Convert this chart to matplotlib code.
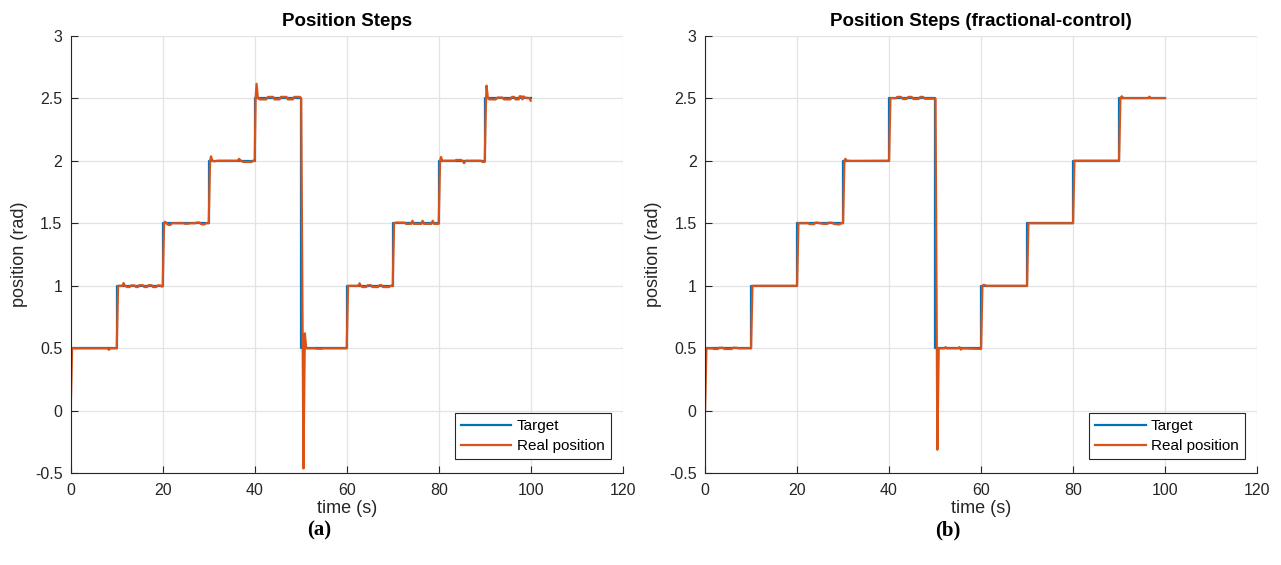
import numpy as np
import matplotlib
matplotlib.use("Agg")
import matplotlib.pyplot as plt

plt.rcParams['font.family'] = ['Liberation Sans', 'DejaVu Sans']

# step reference (same for both runs)
step_t = [0, 10, 20, 30, 40, 50, 60, 70, 80, 90, 100]
step_pos = [0.5, 1.0, 1.5, 2.0, 2.5, 0.5, 1.0, 1.5, 2.0, 2.5, 2.5]

# measured joint position, PID run (time s, position rad)
real_a = [
    (0, 0.0), (0.3, 0.5), (8.0, 0.5), (8.3, 0.488), (8.6, 0.5), (10.0, 0.5),
    (10.3, 1.0), (11.2, 1.0), (11.5, 1.022), (11.8, 1.0), (12.3, 0.99), (12.8, 0.99),
    (13.1, 1.003), (13.9, 1.003), (14.2, 0.99), (14.6, 0.99), (14.9, 1.005), (15.7, 1.005),
    (16.0, 0.99), (16.6, 0.99), (16.9, 1.005), (17.6, 1.005), (17.9, 0.99), (18.6, 0.99),
    (18.9, 1.003), (19.5, 1.003), (19.7, 0.995), (20.0, 0.995),
    (20.3, 1.5), (20.5, 1.512), (20.8, 1.5), (21.2, 1.487), (21.7, 1.487), (22.0, 1.5),
    (24.5, 1.5), (24.8, 1.496), (25.6, 1.496), (25.9, 1.5), (27.1, 1.5), (27.4, 1.506),
    (28.0, 1.506), (28.4, 1.492), (29.0, 1.49), (29.4, 1.5), (30.0, 1.5),
    (30.3, 2.0), (30.5, 2.035), (30.8, 2.0), (31.2, 1.995), (32.0, 2.0), (36.3, 2.0),
    (36.6, 2.015), (37.0, 2.0), (37.5, 1.99), (39.3, 1.99), (39.7, 2.0), (40.0, 2.0),
    (40.2, 2.5), (40.4, 2.615), (40.7, 2.5), (41.1, 2.49), (42.5, 2.49), (42.9, 2.51),
    (44.0, 2.51), (44.3, 2.49), (45.4, 2.49), (45.7, 2.51), (46.9, 2.51), (47.2, 2.49),
    (48.3, 2.49), (48.6, 2.51), (49.8, 2.51), (50.1, 2.5),
    (50.6, -0.46), (50.9, 0.62), (51.2, 0.5), (53.0, 0.5), (53.5, 0.497), (54.5, 0.497),
    (55.0, 0.5), (60.0, 0.5),
    (60.3, 1.0), (62.5, 1.0), (62.8, 1.02), (63.1, 1.0), (63.4, 0.99), (64.2, 0.99),
    (64.6, 1.005), (65.3, 1.005), (65.6, 0.99), (66.8, 0.99), (67.1, 1.005), (67.6, 1.005),
    (67.9, 0.99), (69.2, 0.99), (69.5, 1.0), (70.0, 1.0),
    (70.3, 1.5), (70.7, 1.505), (72.6, 1.505), (72.9, 1.495), (74.0, 1.495), (74.3, 1.52),
    (74.6, 1.495), (76.2, 1.495), (76.5, 1.52), (76.8, 1.495), (78.4, 1.495), (78.7, 1.52),
    (79.0, 1.495), (80.0, 1.495),
    (80.3, 2.0), (80.5, 2.03), (80.8, 2.0), (83.5, 2.0), (83.8, 2.006), (84.8, 2.006),
    (85.2, 2.0), (85.5, 1.98), (85.9, 2.0), (89.2, 2.0), (89.5, 1.99), (90.0, 1.99),
    (90.3, 2.5), (90.4, 2.6), (90.7, 2.5), (91.0, 2.49), (92.4, 2.49), (92.8, 2.505),
    (93.8, 2.505), (94.2, 2.49), (95.6, 2.49), (95.9, 2.51), (96.4, 2.51), (96.7, 2.49),
    (97.4, 2.49), (97.6, 2.515), (97.9, 2.515), (98.2, 2.49), (98.4, 2.515), (98.7, 2.505),
    (99.7, 2.5), (100.0, 2.48),
]

# measured joint position, fractional-order controller run
real_b = [
    (0, 0.0), (0.3, 0.5), (1.6, 0.5), (1.9, 0.495), (2.8, 0.495), (3.1, 0.505),
    (3.9, 0.505), (4.2, 0.495), (5.8, 0.495), (6.1, 0.505), (6.9, 0.505), (7.2, 0.5),
    (10.0, 0.5),
    (10.3, 1.0), (20.0, 1.0),
    (20.3, 1.5), (22.4, 1.5), (22.7, 1.493), (23.7, 1.493), (24.0, 1.505), (24.6, 1.505),
    (24.9, 1.5), (25.8, 1.495), (26.6, 1.495), (26.9, 1.505), (27.6, 1.505), (28.0, 1.495),
    (29.2, 1.49), (29.6, 1.5), (30.0, 1.5),
    (30.3, 2.0), (30.5, 2.015), (30.8, 2.0), (32.0, 1.998), (40.0, 2.0),
    (40.3, 2.5), (41.5, 2.5), (41.8, 2.51), (42.6, 2.51), (43.0, 2.493), (43.8, 2.493),
    (44.2, 2.51), (44.9, 2.51), (45.3, 2.493), (46.4, 2.493), (46.8, 2.51), (47.4, 2.51),
    (47.8, 2.495), (50.1, 2.495),
    (50.5, -0.31), (50.8, 0.5), (52.0, 0.5), (52.3, 0.51), (52.6, 0.5), (55.0, 0.5),
    (55.3, 0.51), (55.6, 0.49), (56.0, 0.5), (60.0, 0.495),
    (60.3, 1.0), (60.6, 1.008), (61.2, 1.0), (70.0, 1.0),
    (70.3, 1.5), (80.0, 1.5),
    (80.3, 2.0), (90.0, 2.0),
    (90.3, 2.5), (90.6, 2.515), (90.9, 2.5), (96.3, 2.5), (96.6, 2.512), (96.9, 2.5),
    (100.0, 2.5),
]

titles = ['Position Steps', 'Position Steps (fractional-control)']
panel_tags = ['(a)', '(b)']
tag_x = [319, 948]

blue = '#0072BD'
orange = '#D95319'

fig = plt.figure(figsize=(12.81, 5.65), dpi=100)
ax_a = fig.add_axes([0.0552, 0.162, 0.4309, 0.775])
ax_b = fig.add_axes([0.5504, 0.162, 0.4309, 0.775])

for ax, real, title, tag, tx in zip([ax_a, ax_b], [real_a, real_b], titles, panel_tags, tag_x):
    rt = np.array(real)
    ax.step(step_t, step_pos, where='post', color=blue, lw=1.6, label='Target')
    ax.plot(rt[:, 0], rt[:, 1], color=orange, lw=1.6, label='Real position')

    ax.set_xlim(0, 120)
    ax.set_ylim(-0.5, 3)
    ax.set_xticks(np.arange(0, 121, 20))
    ax.set_yticks(np.arange(-0.5, 3.01, 0.5))
    ax.set_yticklabels(['-0.5', '0', '0.5', '1', '1.5', '2', '2.5', '3'])
    ax.grid(True, color='#e3e3e3', lw=0.9)
    ax.set_axisbelow(True)
    for s in ['top', 'right']:
        ax.spines[s].set_visible(False)
    for s in ['left', 'bottom']:
        ax.spines[s].set_color('#262626')
        ax.spines[s].set_linewidth(0.8)
    ax.tick_params(direction='in', length=5, labelsize=11.5, colors='#262626')
    ax.tick_params(axis='x', pad=7)
    ax.tick_params(axis='y', pad=6)

    ax.set_title(title, fontsize=13.5, fontweight='bold', pad=7)
    ax.set_xlabel('time (s)', fontsize=13, color='#262626', labelpad=1)
    ax.set_ylabel('position (rad)', fontsize=13, color='#262626', labelpad=5)

    leg = ax.legend(loc='lower right', bbox_to_anchor=(0.978, 0.032), borderaxespad=0,
                    fontsize=11, fancybox=False, framealpha=1, edgecolor='#262626',
                    handlelength=3.3, handletextpad=0.35, labelspacing=0.4, borderpad=0.4)
    leg.get_frame().set_linewidth(0.8)

    fig.text(tx / 1281, 1 - 530 / 565, tag, ha='center', va='center',
             family=['Liberation Serif', 'DejaVu Serif'], fontweight='bold', fontsize=15)

fig.savefig('out.png', dpi=100)
